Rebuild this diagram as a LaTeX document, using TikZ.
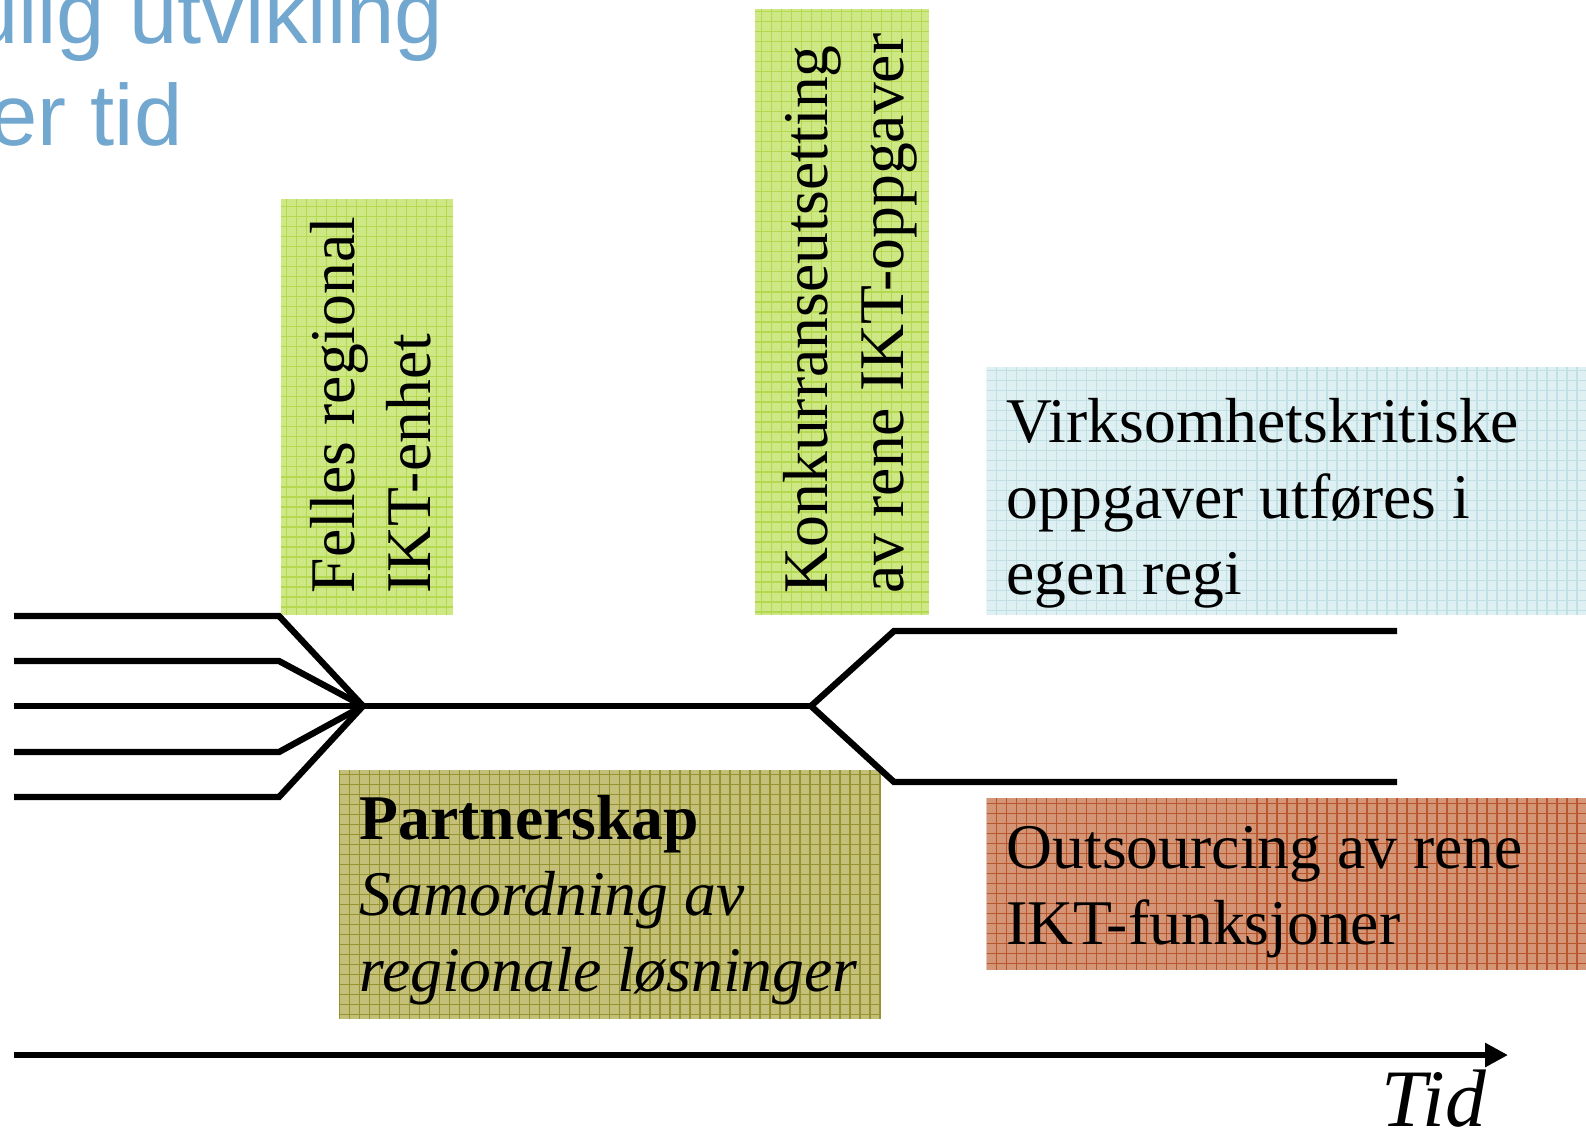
\documentclass[tikz,border=0pt]{standalone}
\usepackage{fontspec}
\setmainfont{Liberation Serif}
\newfontfamily\tittelfont{Liberation Sans}
\usetikzlibrary{arrows.meta}
\definecolor{tittelblaa}{RGB}{114,167,207}
\definecolor{limegronn}{RGB}{206,232,134}
\definecolor{limerute}{RGB}{180,216,80}
\definecolor{oliven}{RGB}{196,192,122}
\definecolor{olivenrute}{RGB}{150,148,48}
\definecolor{lyseblaa}{RGB}{222,240,242}
\definecolor{blaarute}{RGB}{192,224,230}
\definecolor{terrakotta}{RGB}{212,148,118}
\definecolor{terrarute}{RGB}{186,86,44}

\begin{document}
\begin{tikzpicture}[x=0.01cm, y=-0.01cm, >={Triangle[length=0.23cm, width=0.23cm]},
  boks/.style 2 args={fill=#1, inner sep=0, anchor=north west,
    path picture={\draw[#2, line width=0.35pt, step=1mm] (path picture bounding box.south west) grid (path picture bounding box.north east);}},
  tekst/.style={font=\fontsize{18.1}{21.6}\selectfont, align=left, inner sep=0, anchor=base west},
  linje/.style={line width=1.8pt}]
  \useasboundingbox (0,0) rectangle (1586,1132);
  \clip (0,0) rectangle (1586,1132);

  % Tittel (skåret av i venstre kant)
  \node[font=\tittelfont\fontsize{24.7}{28.9}\selectfont, text=tittelblaa, align=left, inner sep=0, anchor=base west] (tittel) at (-103,145) {Mulig utvikling\\over tid};

  % Felles regional IKT-enhet
  \node[boks={limegronn}{limerute}, minimum width=1.72cm, minimum height=4.16cm] (felles) at (280,198) {};
  \node[tekst, rotate=90] (fellestekst) at (430,594) {Felles regional\\IKT-enhet};

  % Konkurranseutsetting
  \node[boks={limegronn}{limerute}, minimum width=1.74cm, minimum height=6.06cm] (konk) at (754,8) {};
  \node[tekst, rotate=90] (konktekst) at (903,594) {Konkurranseutsetting\\av rene IKT-oppgaver};

  % Partnerskap
  \node[boks={oliven}{olivenrute}, minimum width=5.42cm, minimum height=2.49cm] (partner) at (338,769) {};
  \node[tekst] (partnertekst) at (359,991) {\textbf{Partnerskap}\\\textit{Samordning av}\\\textit{regionale løsninger}};

  % Egen regi
  \node[boks={lyseblaa}{blaarute}, minimum width=6cm, minimum height=2.48cm] (egenregi) at (986,366) {};
  \node[tekst] (egenregitekst) at (1006,594) {Virksomhetskritiske\\oppgaver utføres i\\egen regi};

  % Outsourcing
  \node[boks={terrakotta}{terrarute}, minimum width=6cm, minimum height=1.72cm] (outsrc) at (986,797) {};
  \node[tekst] (outsrctekst) at (1006,944) {Outsourcing av rene\\IKT-funksjoner};

  % Fem linjer samles
  \foreach \y [count=\i] in {616,661,706,752,797} {
    \coordinate (inn\i) at (14,\y);
    \coordinate (knekk\i) at (279,\y);
  }
  \coordinate (samle) at (363,706);
  \coordinate (del) at (811,706);
  \coordinate (opp) at (894,631);
  \coordinate (ned) at (894,782);
  \coordinate (oppslutt) at (1397,631);
  \coordinate (nedslutt) at (1397,782);
  \foreach \i in {1,...,5}
    \draw[linje] (inn\i) -- (knekk\i) -- (samle);

  % Felles linje og deling
  \draw[linje] (samle) -- (del);
  \draw[linje] (del) -- (opp) -- (oppslutt);
  \draw[linje] (del) -- (ned) -- (nedslutt);

  % Tidsakse
  \coordinate (tstart) at (14,1055);
  \coordinate (tslutt) at (1508,1055);
  \draw[line width=1.9pt, ->] (tstart) -- (tslutt);
  \node[font=\fontsize{23.2}{28}\selectfont\itshape, inner sep=0, anchor=base east] (tid) at (1487,1126) {Tid};

\end{tikzpicture}
\end{document}
